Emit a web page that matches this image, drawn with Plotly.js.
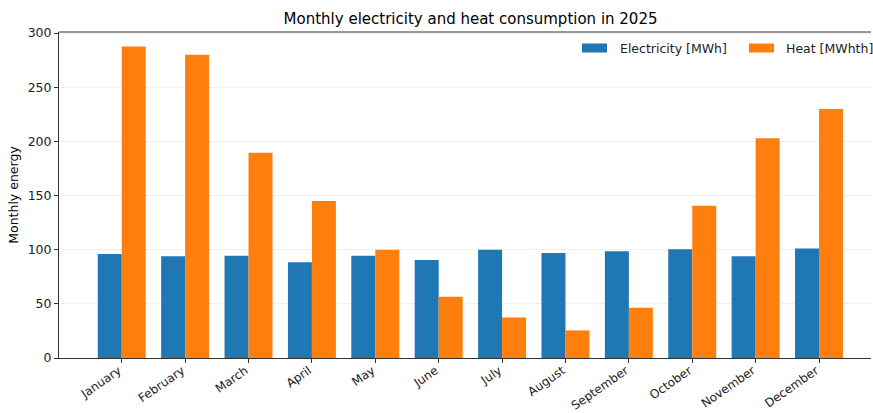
<!DOCTYPE html>
<html><head><meta charset="utf-8">
<script src="https://cdn.plot.ly/plotly-3.0.1.min.js"></script>
<style>html,body{margin:0;padding:0;background:#fff}#c{width:873px;height:413px}</style>
</head><body><div id="c"></div>
<script>
const months = ["January","February","March","April","May","June","July","August","September","October","November","December"];
const electricity = [96, 94, 94.5, 88.5, 94.5, 90.5, 100, 97, 98.5, 100.5, 94, 101];
const heat = [287.5, 280, 189.5, 145, 100, 56.5, 37.5, 25.5, 46.5, 140.5, 203, 230];
const seriesNames = ["Electricity [MWh]", "Heat [MWhth]"];
const seriesColors = ["#1f77b4", "#ff7f0e"];
const yTicks = [0, 50, 100, 150, 200, 250, 300];

const font = "DejaVu Sans, sans-serif";
const M = {l:59, r:2, t:32, b:55};
const W = 873, H = 413;
const pw = W - M.l - M.r, ph = H - M.t - M.b;
const px = x => (x - M.l) / pw;
const py = y => (H - M.b - y) / ph;

const traces = [
  {type:"bar", name:seriesNames[0], x:months, y:electricity, marker:{color:seriesColors[0]}},
  {type:"bar", name:seriesNames[1], x:months, y:heat, marker:{color:seriesColors[1]}}
];

// custom legend (wide swatches like the reference)
const legendPos = [{sx:582, tx:618}, {sx:749, tx:784}];
const shapes = [{type:"line", xref:"paper", yref:"paper", x0:0, x1:1, y0:1, y1:1, line:{color:"#333", width:1}}];
const annotations = [];
seriesNames.forEach((n, i) => {
  shapes.push({type:"rect", xref:"paper", yref:"paper", x0:px(legendPos[i].sx), x1:px(legendPos[i].sx + 25), y0:py(52.5), y1:py(43.5), fillcolor:seriesColors[i], line:{width:0}});
  annotations.push({xref:"paper", yref:"paper", x:px(legendPos[i].tx), y:py(48), xanchor:"left", yanchor:"middle", text:n, showarrow:false, font:{family:font, size:12.5, color:"#222"}});
});

const layout = {
  width:W, height:H,
  margin:{l:M.l, r:M.r, t:M.t, b:M.b, pad:0},
  paper_bgcolor:"#fff", plot_bgcolor:"#fff",
  font:{family:font, size:12.5, color:"#000"},
  title:{text:"Monthly electricity and heat consumption in 2025", font:{family:font, size:15, color:"#000"}, x:0.539, xanchor:"center", y:0.955, yanchor:"middle"},
  barmode:"group", bargap:0.243, bargroupgap:0,
  showlegend:false,
  xaxis:{type:"category", range:[-0.99, 11.82], showline:true, linecolor:"#333", linewidth:1, ticks:"outside", ticklen:4, tickcolor:"#333", tickangle:-35, ticklabelshift:-3, ticklabelstandoff:-4, showgrid:false, tickfont:{family:font, size:12, color:"#222"}, zeroline:false},
  yaxis:{range:[0, 301], tickvals:yTicks, ticktext:yTicks.map(String), showline:true, linecolor:"#333", linewidth:1, ticks:"outside", ticklen:4, tickcolor:"#333", showgrid:true, gridcolor:"#efefef", gridwidth:1, zeroline:false, tickfont:{family:font, size:12.5, color:"#222"}, title:{text:"Monthly energy", font:{family:font, size:12.5, color:"#000"}, standoff:6}},
  shapes:shapes, annotations:annotations
};
Plotly.newPlot("c", traces, layout, {displayModeBar:false, staticPlot:true});
</script></body></html>
